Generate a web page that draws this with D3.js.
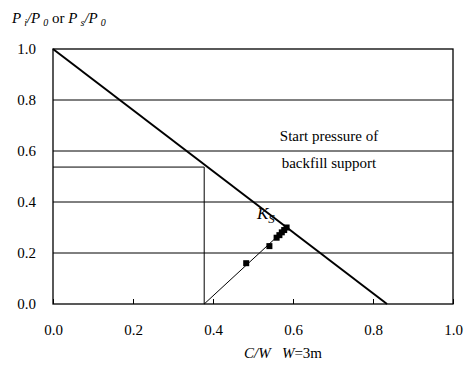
<!DOCTYPE html>
<html>
<head>
<meta charset="utf-8">
<script src="https://cdn.jsdelivr.net/npm/d3@7"></script>
<style>
  body { margin: 0; background: #fff; }
</style>
</head>
<body>
<svg id="chart" width="464" height="369"></svg>
<script>
// Data
// ----
const xTicks = [0.0, 0.2, 0.4, 0.6, 0.8, 1.0];
const yTicks = [0.0, 0.2, 0.4, 0.6, 0.8, 1.0];
const gridY = [0.2, 0.4, 0.6, 0.8];

// thick line: limit of supporting pressure
const limitLine = [[0.0, 1.0], [0.835, 0.0]];
// start pressure of backfill support
const startX = 0.378;
const startY = 0.537;
// K_s trend line and measured points
const ksLine = [[0.378, 0.0], [0.59, 0.307]];
const ksX = [0.483, 0.541, 0.559, 0.566, 0.572, 0.578, 0.584];
const ksY = [0.160, 0.227, 0.260, 0.270, 0.281, 0.290, 0.300];

const serif = "Liberation Serif, DejaVu Serif, serif";

// Layout
// ------
const svg = d3.select("#chart").attr("font-family", serif);
const x = d3.scaleLinear().domain([0, 1]).range([53, 453]);
const y = d3.scaleLinear().domain([0, 1]).range([304, 49]);

// grid lines
svg.append("g").selectAll("line").data(gridY).join("line")
    .attr("x1", x(0)).attr("x2", x(1))
    .attr("y1", d => y(d)).attr("y2", d => y(d))
    .attr("stroke", "#000").attr("stroke-width", 1);

// frame
svg.append("rect")
    .attr("x", x(0)).attr("y", y(1))
    .attr("width", x(1) - x(0)).attr("height", y(0) - y(1))
    .attr("fill", "none").attr("stroke", "#000").attr("stroke-width", 1.3);

// bottom axis ticks, pointing inward
const xAxis = d3.axisBottom(x).tickValues(xTicks).tickSizeInner(-5).tickSizeOuter(0)
    .tickPadding(20).tickFormat(d3.format(".1f"));
const gx = svg.append("g").attr("transform", `translate(0,${y(0)})`).call(xAxis)
    .attr("font-family", serif).attr("font-size", 15);
gx.select(".domain").remove();

const yAxis = d3.axisLeft(y).tickValues(yTicks).tickSize(0).tickPadding(17)
    .tickFormat(d3.format(".1f"));
const gy = svg.append("g").attr("transform", `translate(${x(0)},0)`).call(yAxis)
    .attr("font-family", serif).attr("font-size", 15);
gy.select(".domain").remove();

// start pressure guide lines
svg.append("line")
    .attr("x1", x(0)).attr("x2", x(startX))
    .attr("y1", y(startY)).attr("y2", y(startY))
    .attr("stroke", "#000").attr("stroke-width", 1);
svg.append("line")
    .attr("x1", x(startX)).attr("x2", x(startX))
    .attr("y1", y(0)).attr("y2", y(startY))
    .attr("stroke", "#000").attr("stroke-width", 1);

const line = d3.line().x(d => x(d[0])).y(d => y(d[1]));

svg.append("path").datum(limitLine).attr("d", line)
    .attr("fill", "none").attr("stroke", "#000").attr("stroke-width", 2);

svg.append("path").datum(ksLine).attr("d", line)
    .attr("fill", "none").attr("stroke", "#000").attr("stroke-width", 1);

svg.append("g").selectAll("rect").data(ksX).join("rect")
    .attr("x", (d, i) => x(d) - 3).attr("y", (d, i) => y(ksY[i]) - 3)
    .attr("width", 6).attr("height", 6).attr("fill", "#000");

// annotations
const ann = svg.append("text").attr("font-size", 15).attr("text-anchor", "middle");
ann.append("tspan").attr("x", 329).attr("y", 141).text("Start pressure of");
ann.append("tspan").attr("x", 329).attr("y", 168).text("backfill support");

const ks = svg.append("text").attr("x", 257).attr("y", 219).attr("font-size", 17).attr("font-style", "italic");
ks.append("tspan").text("K");
ks.append("tspan").attr("font-size", 13).attr("dy", 4).text("S");

// axis titles
const yt = svg.append("text").attr("x", 12).attr("y", 23).attr("font-size", 15);
yt.append("tspan").attr("font-style", "italic").text("P");
yt.append("tspan").attr("font-style", "italic").attr("font-size", 10).attr("dx", 3).attr("dy", 3).text("i");
yt.append("tspan").attr("font-style", "italic").attr("dy", -3).text("/P");
yt.append("tspan").attr("font-style", "italic").attr("font-size", 10).attr("dx", 3).attr("dy", 3).text("0");
yt.append("tspan").attr("dy", -3).text(" or ");
yt.append("tspan").attr("font-style", "italic").text("P");
yt.append("tspan").attr("font-style", "italic").attr("font-size", 10).attr("dx", 3).attr("dy", 3).text("s");
yt.append("tspan").attr("font-style", "italic").attr("dy", -3).text("/P");
yt.append("tspan").attr("font-style", "italic").attr("font-size", 10).attr("dx", 3).attr("dy", 3).text("0");

const xt = svg.append("text").attr("x", 283).attr("y", 358).attr("font-size", 15).attr("text-anchor", "middle");
xt.append("tspan").attr("font-style", "italic").text("C/W");
xt.append("tspan").text("\u00a0\u00a0\u00a0");
xt.append("tspan").attr("font-style", "italic").text("W");
xt.append("tspan").text("=3m");
</script>
</body>
</html>
